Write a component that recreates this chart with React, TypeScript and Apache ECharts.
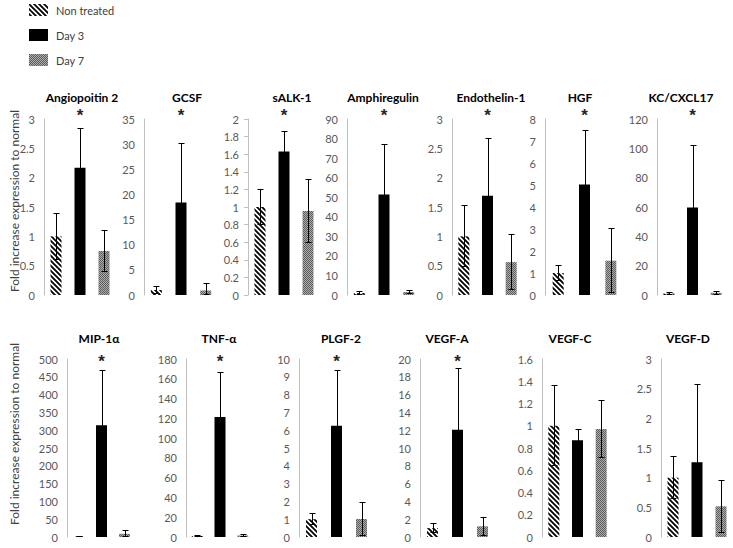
import React, { useEffect, useRef } from "react";
import * as echarts from "echarts";

// ---------- data ----------
const groups = ["Non treated", "Day 3", "Day 7"];
const panelTitles = [
  "Angiopoitin 2", "GCSF", "sALK-1", "Amphiregulin", "Endothelin-1", "HGF", "KC/CXCL17",
  "MIP-1α", "TNF-α", "PLGF-2", "VEGF-A", "VEGF-C", "VEGF-D",
];
const nonTreated = [1.0, 1.0, 1.0, 1.0, 1.0, 1.0, 1.0, 1.0, 1.0, 1.0, 1.0, 1.0, 1.0];
const nonTreatedErr = [0.4, 0.8, 0.2, 0.8, 0.53, 0.37, 1.0, 1.5, 1.0, 0.35, 0.57, 0.363, 0.36];
const day3 = [2.17, 18.4, 1.63, 51.4, 1.69, 5.02, 59.6, 314, 121.3, 6.25, 12.06, 0.87, 1.26];
const day3Err = [0.68, 11.8, 0.235, 25.6, 0.98, 2.5, 43, 155, 46, 3.13, 6.94, 0.105, 1.32];
const day7 = [0.75, 0.9, 0.955, 1.5, 0.56, 1.56, 1.5, 9, 1.5, 1.01, 1.2, 0.971, 0.517];
const day7Err = [0.35, 1.5, 0.365, 1.0, 0.48, 1.47, 1.5, 11, 1.5, 0.94, 1.05, 0.263, 0.45];
const significant = [1, 1, 1, 1, 1, 1, 1, 1, 1, 1, 1, 0, 0];
const axisMax = [3, 35, 2, 90, 3, 8, 120, 500, 180, 10, 20, 1.6, 3];
const axisInterval = [0.5, 5, 0.2, 10, 0.5, 1, 20, 50, 20, 1, 2, 0.2, 0.5];
const yAxisTitle = "Fold increase expression to normal";

// ---------- layout (pixels) ----------
const TOP_ROW = { top: 119, height: 176, titleY: 91, starDy: -4 };
const BOT_ROW = { top: 359, height: 178, titleY: 332, starDy: 2 };
const panelLayout = [
  { left: 44, width: 72, titleX: 82, row: TOP_ROW, ticks: false },
  { left: 144, width: 74, titleX: 187, row: TOP_ROW, ticks: false },
  { left: 248, width: 72, titleX: 292, row: TOP_ROW, ticks: true },
  { left: 347, width: 74, titleX: 383, row: TOP_ROW, ticks: false },
  { left: 452, width: 71, titleX: 491, row: TOP_ROW, ticks: false },
  { left: 545, width: 79, titleX: 580, row: TOP_ROW, ticks: false },
  { left: 657, width: 71, titleX: 681, row: TOP_ROW, ticks: false },
  { left: 67, width: 69, titleX: 99, row: BOT_ROW, ticks: false },
  { left: 186, width: 68, titleX: 219, row: BOT_ROW, ticks: false },
  { left: 299, width: 75, titleX: 341, row: BOT_ROW, ticks: false },
  { left: 420, width: 75, titleX: 447, row: BOT_ROW, ticks: false },
  { left: 542, width: 71, titleX: 570, row: BOT_ROW, ticks: false },
  { left: 661, width: 72, titleX: 688, row: BOT_ROW, ticks: false },
];

const FONT = "Lato, 'Open Sans', sans-serif";

function makeHatch() {
  const c = document.createElement("canvas");
  c.width = 5;
  c.height = 5;
  const ctx = c.getContext("2d")!;
  ctx.fillStyle = "#ffffff";
  ctx.fillRect(0, 0, 5, 5);
  ctx.strokeStyle = "#000000";
  ctx.lineWidth = 1.8;
  ctx.beginPath();
  for (const o of [-5, 0, 5]) {
    ctx.moveTo(o - 1, -1);
    ctx.lineTo(o + 6, 6);
  }
  ctx.stroke();
  return { image: c, repeat: "repeat", imageWidth: 5, imageHeight: 5 };
}

function makeDots() {
  const c = document.createElement("canvas");
  c.width = 2;
  c.height = 2;
  const ctx = c.getContext("2d")!;
  ctx.fillStyle = "#ababab";
  ctx.fillRect(0, 0, 2, 2);
  ctx.fillStyle = "#5e5e5e";
  ctx.fillRect(0, 0, 1, 1);
  ctx.fillRect(1, 1, 1, 1);
  return { image: c, repeat: "repeat", imageWidth: 2, imageHeight: 2 };
}

export default function App() {
  const ref = useRef<HTMLDivElement>(null);

  useEffect(() => {
    if (!ref.current) return;
    const chart = echarts.init(ref.current, null, { renderer: "svg" });
    const fills: any[] = [makeHatch(), "#000000", makeDots()];
    const values = [nonTreated, day3, day7];
    const errs = [nonTreatedErr, day3Err, day7Err];

    const grid: any[] = [];
    const xAxis: any[] = [];
    const yAxis: any[] = [];
    const title: any[] = [];
    const series: any[] = [];

    panelTitles.forEach((name, p) => {
      const L = panelLayout[p];
      grid.push({ left: L.left, top: L.row.top, width: L.width, height: L.row.height });
      title.push({
        text: name,
        left: L.titleX,
        top: L.row.titleY,
        textAlign: "center",
        padding: 0,
        textStyle: { fontFamily: FONT, fontSize: 12, fontWeight: "bold", color: "#000" },
      });
      xAxis.push({
        type: "category",
        gridIndex: p,
        data: groups,
        show: false,
      });
      yAxis.push({
        type: "value",
        gridIndex: p,
        min: 0,
        max: axisMax[p],
        interval: axisInterval[p],
        splitLine: { show: false },
        axisLine: { show: true, lineStyle: { color: "#bfbfbf", width: 1 } },
        axisTick: { show: L.ticks, length: 4, lineStyle: { color: "#bfbfbf" } },
        axisLabel: { margin: 9, color: "#595959", fontSize: 11, fontFamily: FONT },
      });
      groups.forEach((g, gi) => {
        series.push({
          type: "bar",
          name: g,
          xAxisIndex: p,
          yAxisIndex: p,
          barWidth: 11,
          barGap: "-100%",
          data: [0, 1, 2].map((i) => (i === gi ? values[gi][p] : "-")),
          itemStyle: { color: fills[gi] },
          emphasis: { disabled: true },
        });
      });
      const max = axisMax[p];
      const starDy = L.row.starDy;
      series.push({
        type: "custom",
        name: "err" + p,
        xAxisIndex: p,
        yAxisIndex: p,
        clip: false,
        silent: true,
        z: 5,
        data: [0, 1, 2].map((i) => [i, values[i][p], errs[i][p], i === 1 ? significant[p] : 0]),
        renderItem: (params: any, api: any) => {
          const x = api.value(0);
          const m = api.value(1);
          const s = api.value(2);
          const sig = api.value(3);
          const top = api.coord([x, m + s]);
          const bot = api.coord([x, Math.max(0, m - s)]);
          const px = Math.round(top[0]) + 0.5;
          const yT = Math.round(top[1]) + 0.5;
          const yB = Math.round(bot[1]) - 0.5;
          const st = { stroke: "#000000", lineWidth: 1, opacity: 1 };
          const children: any[] = [
            { type: "line", shape: { x1: px, y1: yT, x2: px, y2: yB }, style: st },
            { type: "line", shape: { x1: px - 3, y1: yT, x2: px + 3, y2: yT }, style: st },
            { type: "line", shape: { x1: px - 3, y1: yB, x2: px + 3, y2: yB }, style: st },
          ];
          if (sig) {
            const mp = api.coord([x, max]);
            children.push({
              type: "text",
              x: top[0],
              y: mp[1] + starDy,
              style: {
                text: "*",
                fontSize: 17,
                fontWeight: "bold",
                fontFamily: "'Liberation Sans', Arial, sans-serif",
                fill: "#262626",
                textAlign: "center",
                textVerticalAlign: "middle",
              },
            });
          }
          return { type: "group", children };
        },
      });
    });

    chart.setOption({
      animation: false,
      backgroundColor: "#ffffff",
      title,
      legend: {
        orient: "vertical",
        left: 29,
        top: 4,
        itemWidth: 19,
        itemHeight: 12,
        itemGap: 13,
        padding: 0,
        selectedMode: false,
        icon: "rect",
        data: groups,
        textStyle: { fontFamily: FONT, fontSize: 11, color: "#404040", padding: [0, 0, 0, 3] },
      },
      grid,
      xAxis,
      yAxis,
      series,
      graphic: [
        {
          type: "text",
          x: 14,
          y: 201,
          rotation: Math.PI / 2,
          style: {
            text: yAxisTitle,
            fontFamily: FONT,
            fontSize: 12,
            fill: "#404040",
            textAlign: "center",
            textVerticalAlign: "middle",
          },
        },
        {
          type: "text",
          x: 14,
          y: 434,
          rotation: Math.PI / 2,
          style: {
            text: yAxisTitle,
            fontFamily: FONT,
            fontSize: 12,
            fill: "#404040",
            textAlign: "center",
            textVerticalAlign: "middle",
          },
        },
      ],
    });

    return () => chart.dispose();
  }, []);

  return (
    <div
      ref={ref}
      style={{ position: "fixed", left: 0, top: 0, width: 733, height: 548, background: "#fff" }}
    />
  );
}
